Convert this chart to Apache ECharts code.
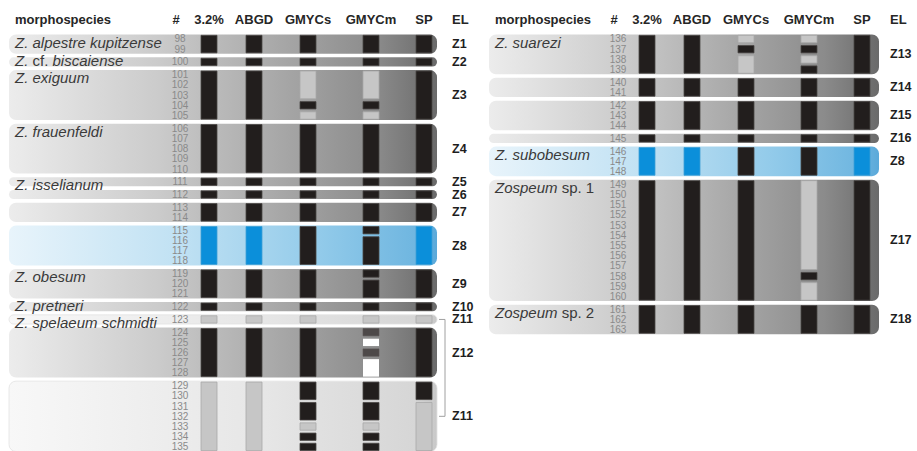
<!DOCTYPE html>
<html>
<head>
<meta charset="utf-8">
<script src="https://cdn.jsdelivr.net/npm/echarts@6/dist/echarts.min.js"></script>
<style>
  html, body { margin: 0; padding: 0; background: #fff; }
  #chart { width: 917px; height: 451px; }
</style>
</head>
<body>
<div id="chart"></div>
<script>
// ---- Groups of specimens forming each entity (EL), left and right table ----
const leftGroupFirst = [98, 100, 101, 106, 111, 112, 113, 115, 119, 122, 123, 124, 129];
const leftGroupLast  = [99, 100, 105, 110, 111, 112, 114, 118, 121, 122, 123, 128, 135];
const leftGroupEL    = ['Z1', 'Z2', 'Z3', 'Z4', 'Z5', 'Z6', 'Z7', 'Z8', 'Z9', 'Z10', 'Z11', 'Z12', 'Z11'];

const rightGroupFirst = [136, 140, 142, 145, 146, 149, 161];
const rightGroupLast  = [139, 141, 144, 145, 148, 160, 163];
const rightGroupEL    = ['Z13', 'Z14', 'Z15', 'Z16', 'Z8', 'Z17', 'Z18'];

// ---- Morphospecies names, first and last specimen listed under each ----
const leftSpeciesFrom = [98, 100, 101, 106, 111, 119, 122, 123];
const leftSpeciesTo   = [99, 100, 105, 110, 118, 121, 122, 135];
const leftSpecies     = ['Z. alpestre kupitzense', 'Z. cf. biscaiense', 'Z. exiguum', 'Z. frauenfeldi',
                         'Z. isselianum', 'Z. obesum', 'Z. pretneri', 'Z. spelaeum schmidti'];
const rightSpeciesFrom = [136, 146, 149, 161];
const rightSpeciesTo   = [145, 148, 160, 163];
const rightSpecies     = ['Z. suarezi', 'Z. subobesum', 'Zospeum sp. 1', 'Zospeum sp. 2'];

// ---- Delimitation methods (column headers) ----
const methods = ['3.2%', 'ABGD', 'GMYCs', 'GMYCm', 'SP'];

// ---- Result blocks per method: [first specimen, last specimen, state] ----
// states: K black cluster, B blue (Z8) cluster, G light grey, D dark grey, W white
const left32 = [[98,99,'K'],[100,100,'K'],[101,105,'K'],[106,110,'K'],[111,111,'K'],[112,112,'K'],[113,114,'K'],
  [115,118,'B'],[119,121,'K'],[122,122,'K'],[123,123,'G'],[124,128,'K'],[129,135,'G']];
const leftABGD = [[98,99,'K'],[100,100,'K'],[101,105,'K'],[106,110,'K'],[111,111,'K'],[112,112,'K'],[113,114,'K'],
  [115,118,'B'],[119,121,'K'],[122,122,'K'],[123,123,'G'],[124,128,'K'],[129,135,'G']];
const leftGMYCs = [[98,99,'K'],[100,100,'K'],[101,103,'G'],[104,104,'K'],[105,105,'G'],[106,110,'K'],[111,111,'K'],
  [112,112,'K'],[113,114,'K'],[115,118,'K'],[119,121,'K'],[122,122,'K'],[123,123,'G'],[124,128,'K'],
  [129,130,'K'],[131,132,'K'],[133,133,'G'],[134,134,'K'],[135,135,'K']];
const leftGMYCm = [[98,99,'K'],[100,100,'K'],[101,103,'G'],[104,104,'K'],[105,105,'G'],[106,110,'K'],[111,111,'K'],
  [112,112,'K'],[113,114,'K'],[115,115,'K'],[116,118,'K'],[119,119,'K'],[120,121,'K'],[122,122,'K'],[123,123,'G'],
  [124,124,'D'],[125,125,'W'],[126,126,'D'],[127,128,'W'],[129,130,'K'],[131,132,'K'],[133,133,'G'],
  [134,134,'K'],[135,135,'K']];
const leftSP = [[98,99,'K'],[100,100,'K'],[101,105,'K'],[106,110,'K'],[111,111,'K'],[112,112,'K'],[113,114,'K'],
  [115,118,'B'],[119,121,'K'],[122,122,'K'],[123,123,'G'],[124,128,'K'],[129,130,'K'],[131,135,'G']];

const right32   = [[136,139,'K'],[140,141,'K'],[142,144,'K'],[145,145,'K'],[146,148,'B'],[149,160,'K'],[161,163,'K']];
const rightABGD = [[136,139,'K'],[140,141,'K'],[142,144,'K'],[145,145,'K'],[146,148,'B'],[149,160,'K'],[161,163,'K']];
const rightGMYCs = [[136,136,'G'],[137,137,'K'],[138,139,'G'],[140,141,'K'],[142,144,'K'],[145,145,'K'],
  [146,148,'K'],[149,160,'K'],[161,163,'K']];
const rightGMYCm = [[136,136,'G'],[137,137,'K'],[138,138,'G'],[139,139,'K'],[140,141,'K'],[142,144,'K'],
  [145,145,'K'],[146,148,'K'],[149,157,'G'],[158,158,'K'],[159,160,'G'],[161,163,'K']];
const rightSP   = [[136,139,'K'],[140,141,'K'],[142,144,'K'],[145,145,'K'],[146,148,'B'],[149,160,'K'],[161,163,'K']];

// ---- Layout (axis units: x = px inside each panel, y = row steps) ----
const FONT = '"Liberation Sans", Arial, Helvetica, sans-serif';
const LAYOUT = {
  panelLeft: [0, 438], panelWidth: 479,
  gridTop: 8.4, gridHeight: 442.7, yMin: -3, yMax: 40.4,
  groupGap: 0.25, boxPad: 0.45, barPad: 0.36,
  colX: [209, 254, 308, 371, 424], barW: 16,
  hashX: 176, numX: 180, elX: 452,
  boxLeft: [9, 51], boxRight: [437, 441], nameX: [15, 57],
  headerY: -1.96, nameShiftMulti: 0.3, nameShiftSingle: -0.1
};

const TONES = {
  grey: [[0, '#ececec'], [0.35, '#cbcbcb'], [0.62, '#a9a9a9'], [0.86, '#8b8b8b'], [1, '#6a6a6a']],
  blue: [[0, '#e8f4fb'], [0.4, '#c0e1f3'], [0.72, '#93cbea'], [0.95, '#6fb6e0'], [1, '#5aa9da']],
  pale: [[0, '#f8f8f8'], [0.6, '#e6e6e6'], [0.95, '#d6d6d6'], [1, '#c8c8c8']]
};
function toneOf(el) { return el === 'Z8' ? 'blue' : (el === 'Z11' ? 'pale' : 'grey'); }

const STATE_STYLE = {
  K: { fill: '#221e1d', stroke: '#4a4645', lineWidth: 0.8 },
  B: { fill: '#0b8fda', stroke: '#3d9fd6', lineWidth: 0.8 },
  G: { fill: '#c6c6c6', stroke: '#a8a8a8', lineWidth: 0.8 },
  D: { fill: '#4d4949', stroke: '#5a5656', lineWidth: 0.6 },
  W: { fill: '#ffffff', stroke: '#ffffff', lineWidth: 0 }
};

// Vertical position of every specimen: one step per row plus a gap between groups
function rowPositions(first, last) {
  const pos = {};
  let k = 0;
  first.forEach((f, g) => {
    for (let s = f; s <= last[g]; s++) { pos[s] = k + LAYOUT.groupGap * g; k++; }
  });
  return pos;
}

function nameRich(name) {
  return name.split(' ').map(w => (w === 'cf.' || w === 'sp.' || /^\d+$/.test(w)) ? w : '{i|' + w + '}').join(' ');
}

function buildPanel(p, g) {
  const pos = rowPositions(p.first, p.last);
  const series = [];
  const boxRight = LAYOUT.boxRight[g];

  // entity boxes
  series.push({
    type: 'custom', xAxisIndex: g, yAxisIndex: g, silent: true, z: 1,
    data: p.first.map((f, i) => [pos[f], pos[p.last[i]]]),
    renderItem(params, api) {
      const el = p.el[params.dataIndex];
      const a = api.coord([LAYOUT.boxLeft[g], api.value(0) - LAYOUT.boxPad]);
      const b = api.coord([boxRight, api.value(1) + LAYOUT.boxPad]);
      const stops = TONES[toneOf(el)].map(s => ({ offset: s[0], color: s[1] }));
      return {
        type: 'rect',
        shape: { x: a[0], y: a[1], width: b[0] - a[0], height: b[1] - a[1], r: 7 },
        style: { fill: new echarts.graphic.LinearGradient(0, 0, 1, 0, stops),
                 stroke: toneOf(el) === 'pale' ? '#e2e2e2' : null, lineWidth: 0.8 }
      };
    }
  });

  // method result blocks
  const blocks = [];
  p.cols.forEach((col, ci) => col.forEach(b => blocks.push([ci, pos[b[0]], pos[b[1]], b[2]])));
  series.push({
    type: 'custom', xAxisIndex: g, yAxisIndex: g, silent: true, z: 3,
    data: blocks.map(b => [b[0], b[1], b[2]]),
    renderItem(params, api) {
      const ci = api.value(0);
      const st = STATE_STYLE[blocks[params.dataIndex][3]];
      const x = LAYOUT.colX[ci];
      const a = api.coord([x - LAYOUT.barW / 2, api.value(1) - LAYOUT.barPad]);
      const b = api.coord([x + LAYOUT.barW / 2, api.value(2) + LAYOUT.barPad]);
      return { type: 'rect', shape: { x: a[0], y: a[1], width: b[0] - a[0], height: b[1] - a[1] }, style: st };
    }
  });

  // specimen numbers
  const specimens = Object.keys(pos).map(Number).sort((a, b) => a - b);
  series.push({
    type: 'custom', xAxisIndex: g, yAxisIndex: g, silent: true, z: 4,
    data: specimens.map(s => [pos[s]]),
    renderItem(params, api) {
      const c = api.coord([LAYOUT.numX, api.value(0)]);
      return { type: 'text', style: { text: String(specimens[params.dataIndex]), x: c[0], y: c[1],
        fill: '#8a8a8a', fontSize: 10, fontFamily: FONT, align: 'center', verticalAlign: 'middle' } };
    }
  });

  // morphospecies names
  series.push({
    type: 'custom', xAxisIndex: g, yAxisIndex: g, silent: true, z: 4,
    data: p.speciesFrom.map((s, i) => [pos[s] + (p.speciesTo[i] > s ? LAYOUT.nameShiftMulti : LAYOUT.nameShiftSingle)]),
    renderItem(params, api) {
      const c = api.coord([LAYOUT.nameX[g], api.value(0)]);
      return { type: 'text', style: { text: nameRich(p.species[params.dataIndex]), x: c[0], y: c[1],
        fill: '#3a3a3a', fontSize: 15, fontFamily: FONT, align: 'left', verticalAlign: 'middle',
        rich: { i: { fontStyle: 'italic', fontSize: 15, fontFamily: FONT, fill: '#3a3a3a' } } } };
    }
  });

  // entity labels
  series.push({
    type: 'custom', xAxisIndex: g, yAxisIndex: g, silent: true, z: 4,
    data: p.first.map((f, i) => [(pos[f] + pos[p.last[i]]) / 2]),
    renderItem(params, api) {
      const c = api.coord([LAYOUT.elX, api.value(0)]);
      return { type: 'text', style: { text: p.el[params.dataIndex], x: c[0], y: c[1],
        fill: '#1e1e1e', fontSize: 12.5, fontWeight: 'bold', fontFamily: FONT, align: 'left', verticalAlign: 'middle' } };
    }
  });

  // column headers
  const heads = ['morphospecies', '#'].concat(methods, ['EL']);
  const headX = [LAYOUT.nameX[g], LAYOUT.hashX].concat(LAYOUT.colX, [LAYOUT.elX]);
  series.push({
    type: 'custom', xAxisIndex: g, yAxisIndex: g, silent: true, z: 4,
    data: heads.map((h, i) => [headX[i], LAYOUT.headerY]),
    renderItem(params, api) {
      const i = params.dataIndex;
      const c = api.coord([api.value(0), api.value(1)]);
      const align = (i === 0 || i === heads.length - 1) ? 'left' : 'center';
      return { type: 'text', style: { text: heads[i], x: c[0], y: c[1], fill: '#262626', fontSize: 13,
        fontWeight: 'bold', fontFamily: FONT, align: align, verticalAlign: 'middle' } };
    }
  });

  // bracket joining the two parts of a split entity
  const counts = {};
  p.el.forEach(e => counts[e] = (counts[e] || 0) + 1);
  const split = p.el.map((e, i) => i).filter(i => counts[p.el[i]] > 1 && toneOf(p.el[i]) === 'pale');
  if (split.length === 2) {
    const ys = split.map(i => (pos[p.first[i]] + pos[p.last[i]]) / 2);
    series.push({
      type: 'custom', xAxisIndex: g, yAxisIndex: g, silent: true, z: 2,
      data: [ys],
      renderItem(params, api) {
        const y0 = api.value(0), y1 = api.value(1);
        const pts = [[boxRight + 2, y0], [boxRight + 8, y0], [boxRight + 8, y1], [boxRight + 2, y1]]
          .map(q => api.coord(q));
        return { type: 'polyline', shape: { points: pts }, style: { stroke: '#a0a0a0', lineWidth: 1, fill: null } };
      }
    });
  }
  return series;
}

const panels = [
  { first: leftGroupFirst, last: leftGroupLast, el: leftGroupEL,
    speciesFrom: leftSpeciesFrom, speciesTo: leftSpeciesTo, species: leftSpecies,
    cols: [left32, leftABGD, leftGMYCs, leftGMYCm, leftSP] },
  { first: rightGroupFirst, last: rightGroupLast, el: rightGroupEL,
    speciesFrom: rightSpeciesFrom, speciesTo: rightSpeciesTo, species: rightSpecies,
    cols: [right32, rightABGD, rightGMYCs, rightGMYCm, rightSP] }
];

const chart = echarts.init(document.getElementById('chart'), null, { renderer: 'svg' });
chart.setOption({
  animation: false,
  backgroundColor: '#ffffff',
  grid: panels.map((_, g) => ({ left: LAYOUT.panelLeft[g], top: LAYOUT.gridTop, width: LAYOUT.panelWidth,
    height: LAYOUT.gridHeight, containLabel: false })),
  xAxis: panels.map((_, g) => ({ type: 'value', gridIndex: g, min: 0, max: LAYOUT.panelWidth, show: false })),
  yAxis: panels.map((_, g) => ({ type: 'value', gridIndex: g, min: LAYOUT.yMin, max: LAYOUT.yMax, inverse: true, show: false })),
  series: panels.flatMap((p, g) => buildPanel(p, g))
});
</script>
</body>
</html>
